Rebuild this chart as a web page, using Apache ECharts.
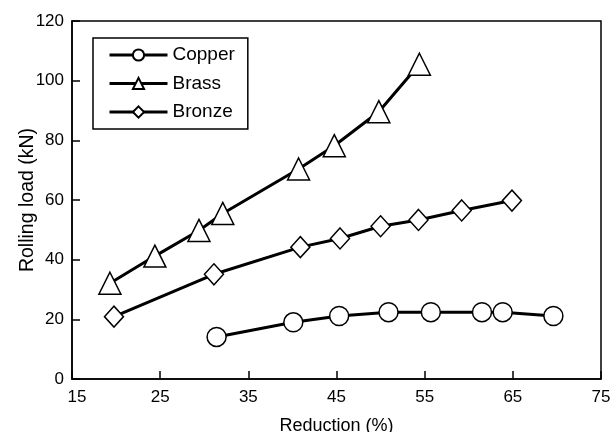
<!DOCTYPE html>
<html>
<head>
<meta charset="utf-8">
<script src="https://cdn.jsdelivr.net/npm/echarts@6/dist/echarts.min.js"></script>
<style>html,body{margin:0;padding:0;background:#fff}#c{width:612px;height:432px}</style>
</head>
<body>
<div id="c"></div>
<script>
const copperX = [31.4, 40.1, 45.3, 50.9, 55.7, 61.5, 63.85, 69.6];
const copperY = [14.1, 19.0, 21.1, 22.4, 22.4, 22.4, 22.4, 21.1];
const brassX = [19.3, 24.4, 29.4, 32.1, 40.7, 44.75, 49.8, 54.4];
const brassY = [32.1, 41.2, 49.8, 55.5, 70.4, 78.2, 89.6, 105.5];
const bronzeX = [19.76, 31.1, 40.9, 45.4, 50.0, 54.3, 59.2, 64.9];
const bronzeY = [20.9, 35.1, 44.2, 47.1, 51.2, 53.3, 56.5, 59.8];
const xTicks = [15, 25, 35, 45, 55, 65, 75];
const yTicks = [0, 20, 40, 60, 80, 100, 120];

const zip = (xs, ys) => xs.map((x, i) => [x, ys[i]]);
const font = 'Liberation Sans';
const chart = echarts.init(document.getElementById('c'), null, {renderer: 'canvas'});
function series(name, xs, ys, symbol, size) {
  return {
    name, type: 'line', data: zip(xs, ys), symbol, symbolSize: size,
    showAllSymbol: true,
    lineStyle: {color: '#000', width: 3},
    itemStyle: {color: '#fff', borderColor: '#000', borderWidth: 1.5},
    emphasis: {disabled: true},
    animation: false, z: 3
  };
}
chart.setOption({
  animation: false,
  grid: {left: 72, right: 11, top: 21, bottom: 53, containLabel: false, outerBoundsMode: 'none',
    show: true, borderColor: '#000', borderWidth: 1.5, backgroundColor: 'transparent'},
  legend: {
    orient: 'vertical', left: 93, top: 38,
    padding: [7.5, 13, 7.5, 15], itemGap: 9.5, itemWidth: 58, itemHeight: 14,
    borderColor: '#000', borderWidth: 1.5,
    lineStyle: {width: 3},
    textStyle: {fontFamily: font, fontSize: 19, color: '#000'},
    data: ['Copper', 'Brass', 'Bronze']
  },
  xAxis: {
    type: 'value', min: xTicks[0], max: xTicks[xTicks.length - 1], interval: 10,
    name: 'Reduction (%)', nameLocation: 'middle', nameGap: 38, nameMoveOverlap: false,
    nameTextStyle: {fontFamily: font, fontSize: 18, color: '#000'},
    axisLine: {lineStyle: {color: '#000', width: 1.5}},
    axisTick: {inside: true, length: 8, lineStyle: {color: '#000', width: 1.5}},
    axisLabel: {
      fontFamily: font, fontSize: 17, color: '#000', margin: 10,
      formatter: v => v === xTicks[0] ? '{first|' + v + '}' : String(v),
      rich: {first: {fontFamily: font, fontSize: 17, color: '#000', padding: [0, 0, 0, 10]}}
    },
    splitLine: {show: false}
  },
  yAxis: {
    type: 'value', min: yTicks[0], max: yTicks[yTicks.length - 1], interval: 20,
    name: 'Rolling load (kN)', nameLocation: 'middle', nameGap: 34, nameMoveOverlap: false,
    nameTextStyle: {fontFamily: font, fontSize: 19.5, color: '#000'},
    axisLine: {lineStyle: {color: '#000', width: 1.5}},
    axisTick: {inside: true, length: 8, lineStyle: {color: '#000', width: 1.5}},
    axisLabel: {fontFamily: font, fontSize: 17, color: '#000', margin: 8},
    splitLine: {show: false}
  },
  series: [
    series('Copper', copperX, copperY, 'circle', 19),
    series('Brass', brassX, brassY, 'triangle', 22),
    series('Bronze', bronzeX, bronzeY, 'diamond', [19, 21])
  ]
});
</script>
</body>
</html>
